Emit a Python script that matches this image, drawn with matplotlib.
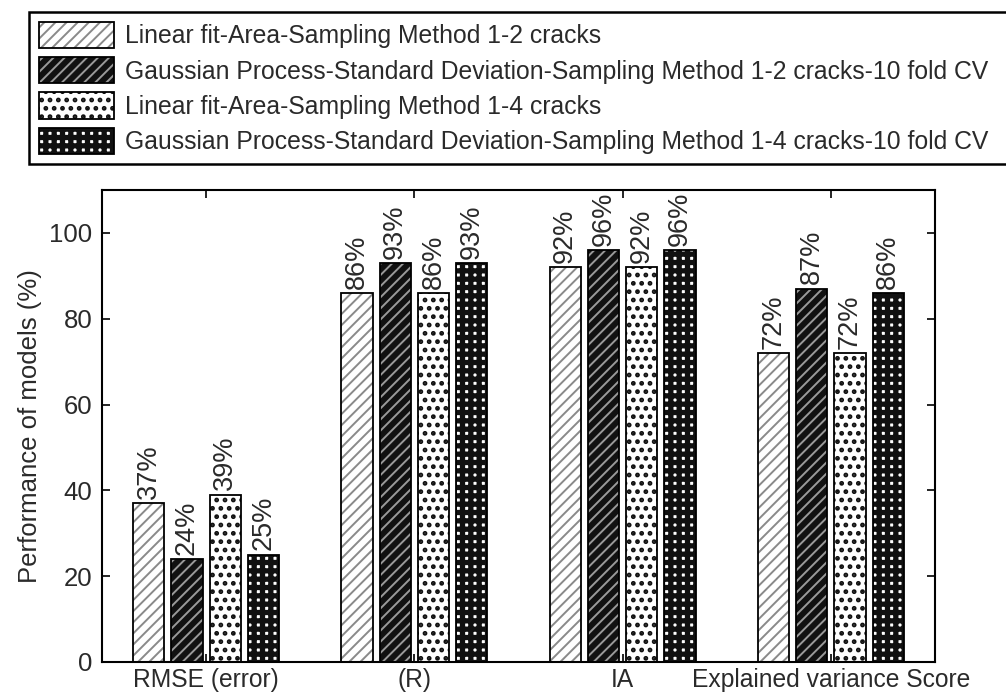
import matplotlib
matplotlib.use("Agg")
import matplotlib.pyplot as plt
from matplotlib.patches import Patch, Rectangle
from matplotlib.legend_handler import HandlerTuple
import numpy as np

# Data
categories = ["RMSE (error)", "(R)", "IA", "Explained variance Score"]
series_labels = [
    "Linear fit-Area-Sampling Method 1-2 cracks",
    "Gaussian Process-Standard Deviation-Sampling Method 1-2 cracks-10 fold CV",
    "Linear fit-Area-Sampling Method 1-4 cracks",
    "Gaussian Process-Standard Deviation-Sampling Method 1-4 cracks-10 fold CV",
]
lin_12 = [37, 86, 92, 72]
gp_12 = [24, 93, 96, 87]
lin_14 = [39, 86, 92, 72]
gp_14 = [25, 93, 96, 86]
yticks = [0, 20, 40, 60, 80, 100]

series = [lin_12, gp_12, lin_14, gp_14]
faces = ["white", "#111111", "white", "white"]
hatch_cols = ["#8a8a8a", "#9a9a9a", "#111111", "#111111"]
hatches = ["///", "///", "..", "++"]
hatch_lw = [1.4, 1.4, 2.2, 3.8]

font = ["Liberation Sans", "DejaVu Sans"]
txt_col = "#2a2a2a"


def hatched(p, i):
    if hasattr(p, "set_hatch_linewidth"):
        p.set_hatch_linewidth(hatch_lw[i])
    return p


fig = plt.figure(figsize=(10.06, 7.0), dpi=100)
ax = fig.add_axes([0.1014, 0.0543, 0.828, 0.6743])

x = np.arange(1, len(categories) + 1)
step = 0.184
width = 0.15
handles = []
for i, vals in enumerate(series):
    pos = x + (i - 1.5) * step
    with plt.rc_context({"hatch.linewidth": hatch_lw[i]}):
        bars = ax.bar(pos, vals, width, color=faces[i], edgecolor=hatch_cols[i],
                      hatch=hatches[i], linewidth=0)
        for b in bars:
            hatched(b, i)
        hp = hatched(Patch(facecolor=faces[i], edgecolor=hatch_cols[i],
                           hatch=hatches[i], linewidth=0), i)
    ax.bar(pos, vals, width, fill=False, edgecolor="black", linewidth=1.3)
    for px, v in zip(pos, vals):
        ax.text(px, v + 1.0, f"{v}%", rotation=90, ha="center", va="bottom",
                fontsize=19.5, family=font, color=txt_col)
    handles.append((hp, Patch(fill=False, edgecolor="black", linewidth=1.3)))

ax.set_xlim(0.5, 4.5)
ax.set_ylim(0, 110)
ax.set_xticks(x)
ax.set_xticklabels(categories, family=font, fontsize=17.7, color=txt_col)
ax.set_yticks(yticks)
ax.set_yticklabels([str(t) for t in yticks], family=font, fontsize=18.5,
                   color=txt_col)
ax.tick_params(axis="both", direction="in", length=6, width=1.2,
               top=True, right=True)
ax.tick_params(axis="x", pad=4)
ax.tick_params(axis="y", pad=7)
for s in ax.spines.values():
    s.set_linewidth(1.5)
ax.set_ylabel("Performance of models (%)", family=font, fontsize=18.5,
              color=txt_col, labelpad=5)

leg = fig.legend(handles, series_labels, loc="upper left", mode="expand",
                 bbox_to_anchor=(29 / 1006, 0.0, 1.0, 1 - 12 / 700),
                 handler_map={tuple: HandlerTuple(ndivide=1, pad=0)},
                 prop={"family": font, "size": 17.8},
                 handlelength=3.05, handleheight=1.25, handletextpad=0.45,
                 labelspacing=0.36, borderpad=0.4, borderaxespad=0,
                 fancybox=False, edgecolor="black", framealpha=1)
leg.get_frame().set_linewidth(1.8)
for t in leg.get_texts():
    t.set_color(txt_col)
for r in leg.findobj(Rectangle):
    h = r.get_hatch()
    if h in hatches and hasattr(r, "set_hatch_linewidth"):
        r.set_hatch_linewidth(hatch_lw[hatches.index(h)])

fig.savefig("out.png", dpi=100)
